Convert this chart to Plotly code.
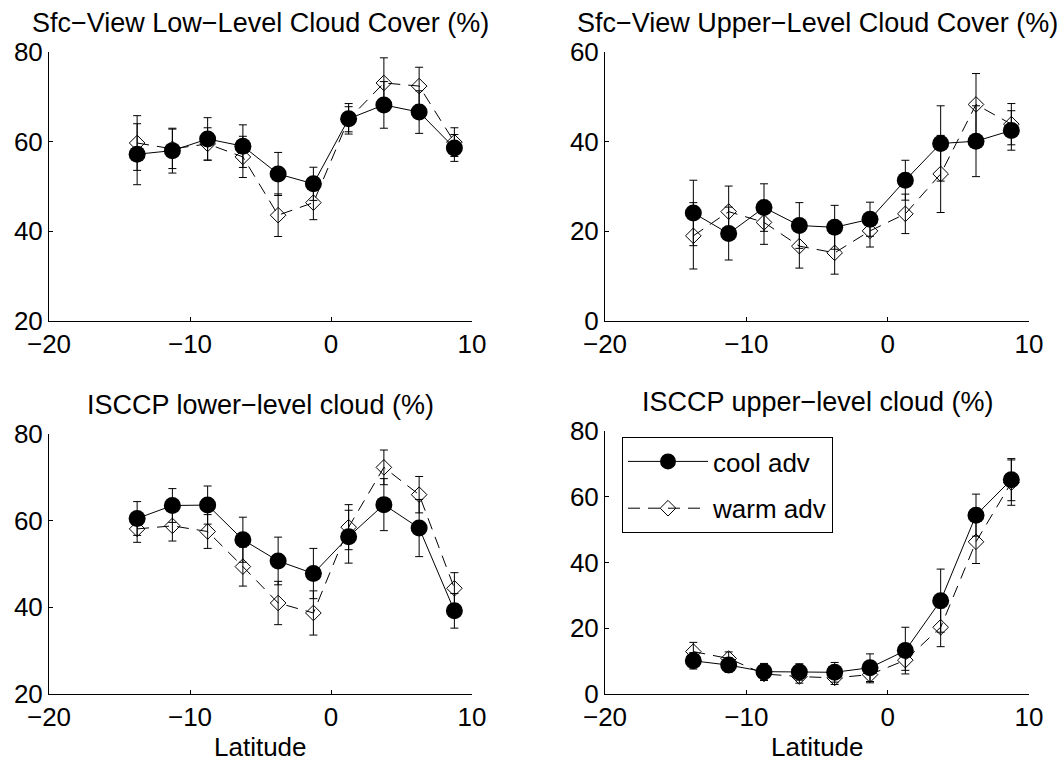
import plotly.graph_objects as go

W, H = 1062, 763

lat = [-13.75, -11.25, -8.75, -6.25, -3.75, -1.25, 1.25, 3.75, 6.25, 8.75]

titles = ["Sfc\u2212View Low\u2212Level Cloud Cover (%)",
          "Sfc\u2212View Upper\u2212Level Cloud Cover (%)",
          "ISCCP lower\u2212level cloud (%)",
          "ISCCP upper\u2212level cloud (%)"]

sfc_low_cool = [57.2, 58.0, 60.6, 59.0, 52.8, 50.6, 65.1, 68.2, 66.6, 58.6]
sfc_low_cool_err = [6.8, 5.0, 4.75, 4.75, 4.8, 3.7, 3.4, 5.2, 4.75, 3.0]
sfc_low_warm = [59.7, 58.4, 59.5, 56.6, 43.6, 46.4, 65.0, 73.1, 72.4, 59.9]
sfc_low_warm_err = [6.1, 4.4, 3.6, 4.6, 4.75, 3.8, 2.8, 5.6, 4.2, 3.2]

sfc_up_cool = [24.1, 19.5, 25.3, 21.3, 20.9, 22.7, 31.4, 39.6, 40.1, 42.5]
sfc_up_cool_err = [7.3, 5.9, 5.3, 5.1, 4.9, 3.8, 4.45, 8.4, 7.9, 4.4]
sfc_up_warm = [19.0, 24.4, 22.0, 16.7, 15.2, 20.1, 23.9, 32.8, 48.3, 43.9]
sfc_up_warm_err = [7.4, 5.7, 4.9, 4.9, 4.75, 3.6, 4.4, 8.6, 6.9, 4.6]

isccp_low_cool = [60.5, 63.5, 63.6, 55.6, 50.7, 47.8, 56.3, 63.7, 58.3, 39.2]
isccp_low_cool_err = [3.9, 3.9, 4.4, 5.2, 5.5, 5.8, 6.1, 6.0, 6.6, 4.0]
isccp_low_warm = [58.1, 58.8, 57.5, 49.4, 41.0, 38.7, 58.5, 72.3, 66.0, 44.4]
isccp_low_warm_err = [3.1, 3.5, 3.9, 4.5, 5.0, 5.1, 5.2, 4.0, 4.2, 3.6]

isccp_up_cool = [10.1, 8.8, 6.8, 6.7, 6.6, 8.0, 13.2, 28.4, 54.4, 65.2]
isccp_up_cool_err = [2.5, 2.2, 2.5, 2.5, 3.0, 4.2, 7.1, 9.6, 6.4, 6.4]
isccp_up_warm = [12.9, 10.8, 6.1, 5.3, 4.9, 5.9, 10.3, 20.3, 46.3, 64.3]
isccp_up_warm_err = [2.8, 2.0, 2.0, 2.0, 2.0, 2.5, 3.1, 5.9, 6.6, 6.9]

x_range = [-20, 10]
x_ticks = [-20, -10, 0, 10]
y_ranges = [[20, 80], [0, 60], [20, 80], [0, 80]]
y_ticks = [[20, 40, 60, 80], [0, 20, 40, 60], [20, 40, 60, 80], [0, 20, 40, 60, 80]]
xlabel = "Latitude"

panels = [
    (sfc_low_cool, sfc_low_cool_err, sfc_low_warm, sfc_low_warm_err),
    (sfc_up_cool, sfc_up_cool_err, sfc_up_warm, sfc_up_warm_err),
    (isccp_low_cool, isccp_low_cool_err, isccp_low_warm, isccp_low_warm_err),
    (isccp_up_cool, isccp_up_cool_err, isccp_up_warm, isccp_up_warm_err),
]

# pixel boxes of axes: (left, right, top, bottom)
boxes = [(49, 472, 52, 321), (605, 1029, 52, 321), (49, 472, 434, 694), (605, 1029, 431, 694)]

FONT = "Liberation Sans, Arial, Helvetica, sans-serif"
fig = go.Figure()

for i, (c, ce, w, we) in enumerate(panels):
    sfx = "" if i == 0 else str(i + 1)
    show = (i == 3)
    fig.add_trace(go.Scatter(
        x=lat, y=c, mode="lines+markers", name="cool adv",
        xaxis="x" + sfx, yaxis="y" + sfx, showlegend=show, legendgroup="cool",
        line=dict(color="black", width=1),
        marker=dict(symbol="circle", size=17, color="black", line=dict(width=0)),
        error_y=dict(type="data", array=ce, visible=True, color="black", thickness=1, width=4),
    ))
    fig.add_trace(go.Scatter(
        x=lat, y=w, mode="lines+markers", name="warm adv",
        xaxis="x" + sfx, yaxis="y" + sfx, showlegend=show, legendgroup="warm",
        line=dict(color="black", width=1, dash="12px,8px"),
        marker=dict(symbol="diamond-open", size=12, color="black", line=dict(width=1, color="black")),
        error_y=dict(type="data", array=we, visible=True, color="black", thickness=1, width=4),
    ))

layout = dict(
    width=W, height=H, margin=dict(l=0, r=0, t=0, b=0, autoexpand=False),
    paper_bgcolor="white", plot_bgcolor="white",
    font=dict(family=FONT, size=26, color="black"),
    showlegend=True,
    legend=dict(x=622 / W, y=1 - 437 / H, xanchor="left", yanchor="top",
                bordercolor="black", borderwidth=1, bgcolor="white",
                font=dict(size=26), traceorder="grouped", tracegroupgap=10,
                itemwidth=80),
)
annotations = []
for i, (l, r, t, b) in enumerate(boxes):
    sfx = "" if i == 0 else str(i + 1)
    ax_common = dict(showline=True, linecolor="black", linewidth=1, ticks="inside",
                     ticklen=4, tickcolor="black", showgrid=False, zeroline=False,
                     mirror=False, automargin=False, tickfont=dict(size=26, family=FONT))
    layout["xaxis" + sfx] = dict(domain=[l / W, r / W], range=x_range, tickvals=x_ticks,
                                 anchor="y" + sfx, **ax_common)
    layout["yaxis" + sfx] = dict(domain=[1 - b / H, 1 - t / H], range=y_ranges[i],
                                 tickvals=y_ticks[i], anchor="x" + sfx, **ax_common)
    annotations.append(dict(text=titles[i], x=(l + r) / 2 / W, y=1 - (t - 29) / H,
                            xref="paper", yref="paper", xanchor="center", yanchor="middle",
                            showarrow=False, font=dict(size=27, family=FONT)))
    if i >= 2:
        annotations.append(dict(text=xlabel, x=(l + r) / 2 / W, y=1 - 747 / H,
                                xref="paper", yref="paper", xanchor="center", yanchor="middle",
                                showarrow=False, font=dict(size=26, family=FONT)))
layout["annotations"] = annotations
fig.update_layout(**layout)

fig.write_html("out.html")
